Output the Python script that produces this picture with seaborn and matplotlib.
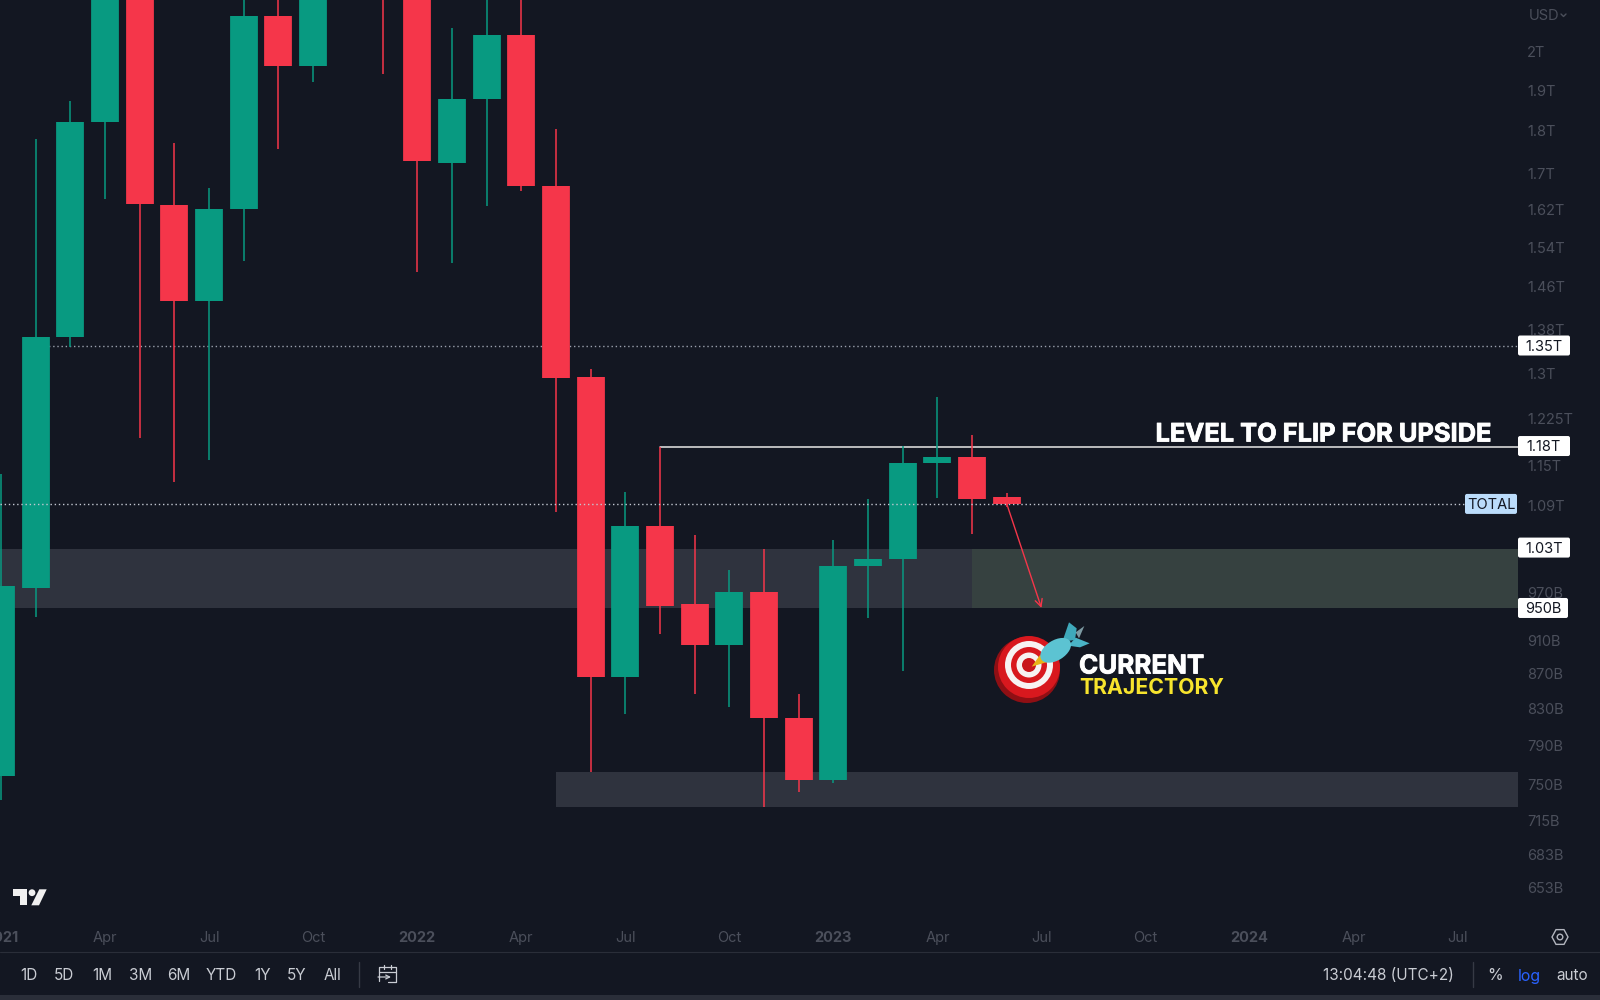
import numpy as np
import pandas as pd
import matplotlib
matplotlib.use("Agg")
import matplotlib.pyplot as plt
import matplotlib.patheffects as pe
import matplotlib.transforms as mtrans
import seaborn as sns
from matplotlib.patches import Rectangle, FancyBboxPatch, Circle, Ellipse, Polygon
from matplotlib.ticker import NullLocator, FixedLocator, FixedFormatter

# monthly candles, prices in billions USD
months = ["Jan21", "Feb21", "Mar21", "Apr21", "May21", "Jun21", "Jul21", "Aug21", "Sep21", "Oct21", "Nov21", "Dec21",
          "Jan22", "Feb22", "Mar22", "Apr22", "May22", "Jun22", "Jul22", "Aug22", "Sep22", "Oct22", "Nov22", "Dec22",
          "Jan23", "Feb23", "Mar23", "Apr23", "May23", "Jun23"]
opens = [759, 976, 1366, 1820, 2300, 1630, 1433, 1620, 2098, 1962, 2700, 2500,
         2200, 1723, 1878, 2047, 1672, 1294, 866, 1060, 955, 904, 971, 820,
         755, 1005, 1014, 1153, 1163, 1102]
closes = [978, 1366, 1820, 2300, 1632, 1433, 1620, 2098, 1962, 2700, 2500, 2200,
          1728, 1878, 2047, 1672, 1292, 866, 1060, 952, 904, 971, 820, 755,
          1005, 1014, 1153, 1163, 1099, 1092]
highs = [1136, 1779, 1873, 2350, 2400, 1771, 1668, 2200, 2300, 2800, 2800, 2600,
         2300, 2064, 2200, 2300, 1803, 1308, 1110, 1179, 1048, 1000, 1028, 847,
         1040, 1099, 1180, 1260, 1197, 1108]
lows = [735, 938, 1348, 1643, 1193, 1125, 1158, 1512, 1757, 1920, 2250, 1943,
        1489, 1507, 1627, 1661, 1080, 763, 824, 917, 847, 832, 728, 743,
        752, 937, 873, 1101, 1049, 1087]

# price scale
y_ticks = [2000, 1900, 1800, 1700, 1620, 1540, 1460, 1380, 1300, 1225, 1150, 1090,
           970, 910, 870, 830, 790, 750, 715, 683, 653]
y_labels = ["2T", "1.9T", "1.8T", "1.7T", "1.62T", "1.54T", "1.46T", "1.38T", "1.3T", "1.225T", "1.15T", "1.09T",
            "970B", "910B", "870B", "830B", "790B", "750B", "715B", "683B", "653B"]

# time scale (month index, label)
x_ticks = [0, 3, 6, 9, 12, 15, 18, 21, 24, 27, 30, 33, 36, 39, 42]
x_labels = ["2021", "Apr", "Jul", "Oct", "2022", "Apr", "Jul", "Oct", "2023", "Apr", "Jul", "Oct", "2024", "Apr", "Jul"]

# drawn levels
level_mid = [1028, 950]
level_low = [763, 728]
level_flip = 1179
level_dotted = 1350
level_last = 1092
arrow_from = (29, 1092)
arrow_to = (30, 950)

tags = ["1.35T", "1.18T", "1.03T", "950B"]
tag_values = [1350, 1180, 1030, 950]
range_buttons = ["1D", "5D", "1M", "3M", "6M", "YTD", "1Y", "5Y", "All"]
range_x = [29, 64, 102, 141, 179, 221, 263, 297, 332]

BG = "#131722"
UP = "#089a81"
DOWN = "#f5364a"
FONT = ["Inter", "DejaVu Sans"]
X0, X1 = -0.029, 43.74

sns.set_theme(style="dark", rc={"figure.facecolor": BG, "axes.facecolor": BG})
plt.rcParams["font.family"] = FONT

df = pd.DataFrame({"month": months, "open": opens, "close": closes, "high": highs, "low": lows})
df["i"] = np.arange(len(df))
df["dir"] = np.where(df["close"] >= df["open"], "up", "down")
bodies = df.melt(id_vars=["i", "dir"], value_vars=["open", "close"], value_name="price")
wicks = df.melt(id_vars=["i", "dir"], value_vars=["high", "low"], value_name="price")
pal = {"up": UP, "down": DOWN}

fig = plt.figure(figsize=(16, 10), dpi=100)
ax = fig.add_axes([0, 0.08, 1518 / 1600, 0.92])
ax.set_yscale("log")
ax.set_xlim(X0, X1)
ax.set_ylim(625.6, 2144)

# zones sit behind the candles
ax.fill_between([X0, 28], level_mid[1], level_mid[0], color="#2f333e", lw=0, zorder=1)
ax.fill_between([28, X1], level_mid[1], level_mid[0], color="#364140", lw=0, zorder=1)
ax.fill_between([16, X1], level_low[1], level_low[0], color="#2f333e", lw=0, zorder=1)

ax.plot([19, X1], [level_flip, level_flip], color="#e8e8e8", lw=1.1, zorder=2)
ax.plot([1, X1], [level_dotted, level_dotted], color="#9aa0ad", lw=1, ls=(0, (1, 2)), zorder=2)

sns.lineplot(data=wicks, x="i", y="price", hue="dir", units="i", estimator=None, palette=pal,
             linewidth=1.1, legend=False, ax=ax, zorder=3, solid_capstyle="butt")
sns.lineplot(data=bodies, x="i", y="price", hue="dir", units="i", estimator=None, palette=pal,
             linewidth=20, legend=False, ax=ax, zorder=3.5, solid_capstyle="butt")

ax.plot([X0, 42.26], [level_last, level_last], color="#c3c8d2", lw=1, ls=(0, (1, 2)), zorder=4)

ax.annotate("", xy=arrow_to, xytext=arrow_from, zorder=5,
            arrowprops=dict(arrowstyle="->", color=DOWN, lw=1, shrinkA=0, shrinkB=0, mutation_scale=13))

ax.set_xlabel("")
ax.set_ylabel("")
ax.grid(False)
for s in ax.spines.values():
    s.set_visible(False)

ax.yaxis.tick_right()
ax.yaxis.set_minor_locator(NullLocator())
ax.yaxis.set_major_locator(FixedLocator(y_ticks))
ax.yaxis.set_major_formatter(FixedFormatter(y_labels))
ax.set_xticks(x_ticks)
ax.set_xticklabels(x_labels)
ax.tick_params(axis="y", length=0, pad=6.5, labelsize=10.5, labelcolor="#4b4f5b")
ax.tick_params(axis="x", length=0, pad=8, labelsize=10.5, labelcolor="#4b4f5b")
for t in ax.get_xticklabels():
    if t.get_text().startswith("20"):
        t.set_fontweight("bold")

# overlay in pixel coordinates for the chart chrome
ui = fig.add_axes([0, 0, 1, 1], facecolor="none")
ui.set_xlim(0, 1600)
ui.set_ylim(1000, 0)
ui.axis("off")


def py(v):
    return 1000 - ax.transData.transform((0, v))[1]


def box(x0, x1, v, fc, label, h=20):
    y = py(v)
    ui.add_patch(FancyBboxPatch((x0, y - h / 2), x1 - x0, h, boxstyle="round,pad=0,rounding_size=2",
                                fc=fc, ec="none", zorder=6))
    ui.text((x0 + x1) / 2, y + 1, label, color="#131722", fontsize=10.5, ha="center", va="center", zorder=7)


for lab, val in zip(tags, tag_values):
    box(1518, 1568 if lab == "950B" else 1570, val, "white", lab)
box(1465, 1517, level_last, "#bbdcfb", "TOTAL")

thick = [pe.withStroke(linewidth=0.6, foreground="white")]
ui.text(1490, 435, "LEVEL TO FLIP FOR UPSIDE", color="white", fontsize=18.3, fontweight="bold",
        ha="right", va="center", path_effects=thick)
ui.text(1079, 667, "CURRENT", color="white", fontsize=18.7, fontweight="bold", ha="left", va="center", path_effects=thick)
ui.text(1079, 688, "TRAJECTORY", color="#f7e42d", fontsize=15.3, fontweight="bold", ha="left", va="center")

def z(x, y):
    return (985 + x / 3, 615 + y / 3)


ui.add_patch(Circle((1027, 670), 33, fc="#8f0f14", ec="none"))
ui.add_patch(Circle((1029, 667), 31, fc="#d8181e", ec="none"))
ui.add_patch(Circle((1029, 665), 24, fc="#f7f2f2", ec="none"))
ui.add_patch(Circle((1029, 665), 18, fc="#d8181e", ec="none"))
ui.add_patch(Circle((1029, 665), 12.5, fc="#f7f2f2", ec="none"))
ui.add_patch(Circle((1029, 665), 7, fc="#c9161c", ec="none"))
ui.add_patch(Polygon([z(140, 155), z(165, 120), z(190, 140)], fc="#e8b317", ec="none"))
ui.add_patch(Polygon([z(250, 92), z(272, 68), z(314, 85), z(285, 97)], fc="#4ab4c6", ec="none"))
ui.add_patch(Polygon([z(272, 52), z(298, 33), z(282, 70)], fc="#7d9aa3", ec="none"))
ui.add_patch(Polygon([z(232, 80), z(252, 22), z(275, 40), z(270, 75)], fc="#3fa9bb", ec="none"))
ui.add_patch(Ellipse(z(212, 106), 34, 20, angle=-32, fc="#5cc3d2", ec="none"))

# TradingView logo
logo = "#f0f0f0"
ui.add_patch(Polygon([(12.7, 889.3), (27.3, 889.3), (27.3, 905.3), (20, 905.3), (20, 896), (12.7, 896)], fc=logo, ec="none"))
ui.add_patch(Circle((32, 892.7), 3.4, fc=logo, ec="none"))
ui.add_patch(Polygon([(39.3, 889.3), (46.7, 889.3), (39, 905.3), (31.3, 905.3)], fc=logo, ec="none"))

ui.text(1529, 16, "USD", color="#4b4f5b", fontsize=10.5, va="center")
ui.plot([1561, 1563.5, 1566], [14, 16.5, 14], color="#4b4f5b", lw=1)

# gear hexagon
hex_pts = [(1560 + 8 * np.cos(a), 937 + 8.5 * np.sin(a)) for a in np.deg2rad([0, 60, 120, 180, 240, 300])]
ui.add_patch(Polygon(hex_pts, fc="none", ec="#b2b5be", lw=1))
ui.add_patch(Circle((1560, 937), 2.8, fc="none", ec="#b2b5be", lw=1))

# bottom bar
ui.plot([0, 1600], [952, 952], color="#2a2e39", lw=0.8)
ui.add_patch(Rectangle((0, 995), 1600, 5, fc="#2a2e39", ec="none"))
for lab, x in zip(range_buttons, range_x):
    ui.text(x, 976, lab, color="#c9ccd3", fontsize=11, ha="center", va="center")
ui.plot([359, 359], [962, 987], color="#363a45", lw=1)
ui.plot([1473, 1473], [962, 987], color="#363a45", lw=1)

# go-to-date icon
ui.plot([379, 379, 396, 396, 388], [981, 967, 967, 982, 982], color="#c9ccd3", lw=0.9)
ui.plot([379, 396], [972, 972], color="#c9ccd3", lw=0.9)
ui.plot([384, 384], [965, 969], color="#c9ccd3", lw=0.9)
ui.plot([391, 391], [965, 969], color="#c9ccd3", lw=0.9)
ui.annotate("", xy=(391, 977), xytext=(378, 977), arrowprops=dict(arrowstyle="->", color="#c9ccd3", lw=0.9, shrinkA=0, shrinkB=0, mutation_scale=7))

ui.text(1323, 976, "13:04:48 (UTC+2)", color="#c9ccd3", fontsize=11, ha="left", va="center")
ui.text(1495, 976, "%", color="#c9ccd3", fontsize=11.5, ha="center", va="center")
ui.text(1529, 976, "log", color="#2962ff", fontsize=11.5, ha="center", va="center")
ui.text(1572, 976, "auto", color="#c9ccd3", fontsize=11, ha="center", va="center")

plt.savefig("out.png", dpi=100, facecolor=BG)
